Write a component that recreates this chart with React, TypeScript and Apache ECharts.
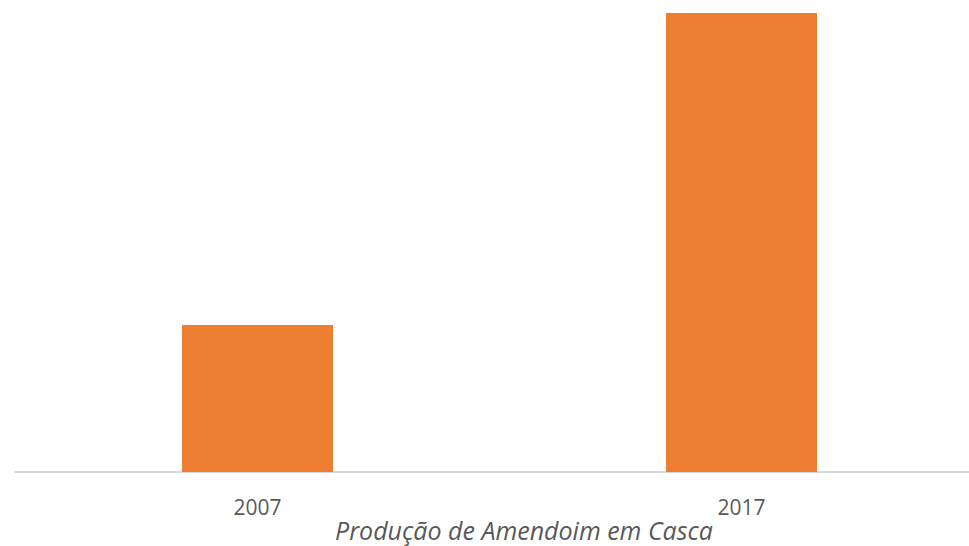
import React, { useEffect, useRef } from "react";
import * as echarts from "echarts";

const categories: string[] = ["2007", "2017"];
const production: number[] = [147, 459];
const chartTitle = "Produção de Amendoim em Casca";

export default function App() {
  const ref = useRef<HTMLDivElement>(null);
  useEffect(() => {
    if (!ref.current) return;
    const chart = echarts.init(ref.current, undefined, { renderer: "svg" });
    chart.setOption({
      animation: false,
      backgroundColor: "#ffffff",
      grid: { left: 15.5, width: 968, top: 0, height: 472, containLabel: false },
      xAxis: {
        type: "category",
        data: categories,
        axisLine: { show: true, lineStyle: { color: "#d9d9d9", width: 2 } },
        axisTick: { show: false },
        axisLabel: { color: "#595959", fontSize: 21, fontFamily: "Open Sans", margin: 24 },
      },
      yAxis: {
        type: "value",
        min: 0,
        max: 472,
        show: false,
        splitLine: { show: false },
      },
      series: [
        {
          type: "bar",
          data: production,
          barWidth: 151,
          itemStyle: { color: "#ed7d31" },
        },
      ],
      graphic: [
        {
          type: "text",
          x: 524,
          y: 530,
          style: {
            text: chartTitle,
            fill: "#595959",
            font: "italic 25px 'Open Sans'",
            lineHeight: 26,
            textAlign: "center",
            textVerticalAlign: "middle",
          },
        },
      ],
    });
    return () => chart.dispose();
  }, []);
  return (
    <div style={{ position: "fixed", left: 0, top: 0, width: 969, height: 546, overflow: "hidden" }}>
      <div ref={ref} style={{ position: "absolute", left: 0, top: 0, width: 1000, height: 546 }} />
    </div>
  );
}
